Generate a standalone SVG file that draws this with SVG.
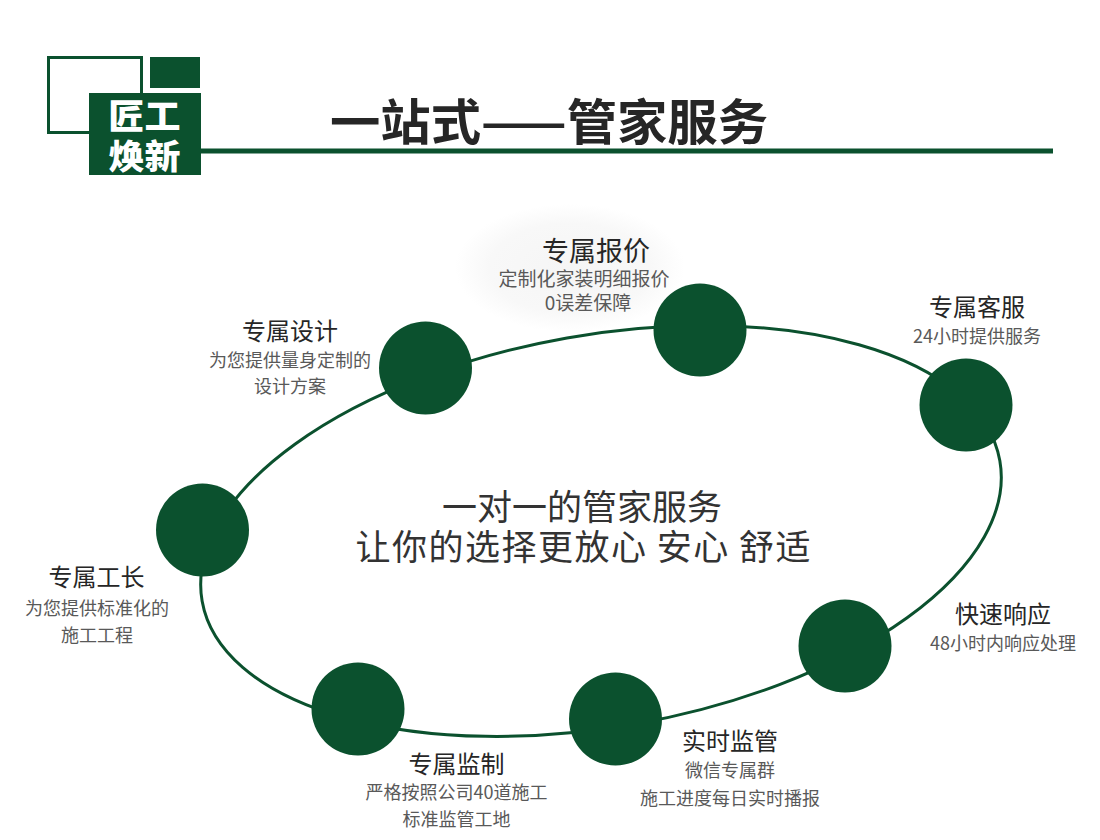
<svg xmlns="http://www.w3.org/2000/svg" width="1100" height="840" viewBox="0 0 1100 840">
<defs>
<style>
.g{fill:#0b512e}
.ring{fill:none;stroke:#0b512e;stroke-width:3}
.t{font-family:"Noto Sans CJK SC","Noto Sans",sans-serif;fill:#262626;font-size:24px;text-anchor:middle}
.s{font-family:"Noto Sans CJK SC","Noto Sans",sans-serif;fill:#595959;font-size:18px;text-anchor:middle}
.c{font-family:"Noto Sans CJK SC","Noto Sans",sans-serif;fill:#333;font-size:35px;text-anchor:middle}
.logo{font-family:"Noto Sans CJK SC",sans-serif;font-weight:900;font-size:34px;fill:#fff;text-anchor:middle}
</style>
<radialGradient id="glow" cx="0.5" cy="0.5" r="0.5">
<stop offset="0" stop-color="#f5f5f5"/>
<stop offset="0.7" stop-color="#f8f8f8"/>
<stop offset="1" stop-color="#ffffff"/>
</radialGradient>
</defs>
<rect width="1100" height="840" fill="#fff"/>

<g id="header">
<rect x="48.5" y="57.5" width="93" height="75" fill="none" stroke="#0b512e" stroke-width="3"/>
<rect class="g" x="150" y="57" width="50" height="31"/>
<rect class="g" x="89" y="93" width="112" height="82"/>
<rect class="g" x="200" y="148.5" width="853" height="5"/>
<text class="logo" x="144.5" y="129" textLength="72" lengthAdjust="spacingAndGlyphs">匠工</text>
<text class="logo" x="144.5" y="169" textLength="72" lengthAdjust="spacingAndGlyphs">焕新</text>
<text x="330" y="140" font-family="'Noto Sans CJK SC',sans-serif" font-weight="700" font-size="49" fill="#262626" textLength="438" lengthAdjust="spacingAndGlyphs">一站式——管家服务</text>
</g>

<ellipse cx="570" cy="268" rx="115" ry="64" fill="url(#glow)"/>

<g id="connectors">
<ellipse class="ring" cx="601" cy="531" rx="405" ry="196" transform="rotate(-10 601 531)"/>
</g>

<g id="center-text">
<text class="c" x="582" y="520">一对一的管家服务</text>
<text class="c" x="583" y="560" textLength="455" lengthAdjust="spacing">让你的选择更放心 安心 舒适</text>
</g>

<g id="node-baojia">
<circle class="g" cx="700" cy="330" r="46.5"/>
<text class="t" x="596" y="261" style="font-size:27px">专属报价</text>
<text class="s" x="584" y="286" style="font-size:19px">定制化家装明细报价</text>
<text class="s" x="588" y="310" style="font-size:19px">0误差保障</text>
</g>

<g id="node-kefu">
<circle class="g" cx="966" cy="405" r="46.5"/>
<text class="t" x="977" y="316">专属客服</text>
<text class="s" x="977" y="343">24小时提供服务</text>
</g>

<g id="node-xiangying">
<circle class="g" cx="845" cy="646" r="46.5"/>
<text class="t" x="1003" y="623">快速响应</text>
<text class="s" x="1003" y="650">48小时内响应处理</text>
</g>

<g id="node-jianguan">
<circle class="g" cx="615.5" cy="719" r="46.5"/>
<text class="t" x="730" y="750">实时监管</text>
<text class="s" x="730" y="777">微信专属群</text>
<text class="s" x="730" y="805">施工进度每日实时播报</text>
</g>

<g id="node-jianzhi">
<circle class="g" cx="358" cy="709" r="46.5"/>
<text class="t" x="456.5" y="773">专属监制</text>
<text class="s" x="456.5" y="799">严格按照公司40道施工</text>
<text class="s" x="456.5" y="826">标准监管工地</text>
</g>

<g id="node-gongzhang">
<circle class="g" cx="202.5" cy="530" r="46.5"/>
<text class="t" x="96.5" y="586">专属工长</text>
<text class="s" x="97" y="615">为您提供标准化的</text>
<text class="s" x="97" y="642">施工工程</text>
</g>

<g id="node-sheji">
<circle class="g" cx="425.5" cy="368" r="46.5"/>
<text class="t" x="290" y="340">专属设计</text>
<text class="s" x="290" y="367">为您提供量身定制的</text>
<text class="s" x="290" y="393">设计方案</text>
</g>
</svg>
